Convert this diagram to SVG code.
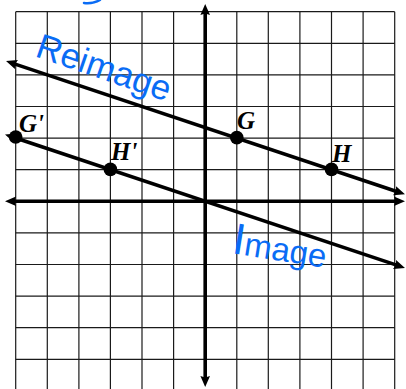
<svg xmlns="http://www.w3.org/2000/svg" width="406" height="389" viewBox="0 0 406 389">
  <style>
    .grid line { stroke: #1a1a1a; stroke-width: 1.2; }
    .ln { stroke: #000; stroke-width: 3.6; fill: none; marker-start: url(#arr); marker-end: url(#arr); }
    .pt { fill: #000; }
    .lbl { font-family: "Liberation Serif", "Times New Roman", serif; font-weight: bold; font-style: italic; font-size: 25px; fill: #000; }
    .hand { font-family: "Liberation Sans", Arial, sans-serif; fill: #0a6cf5; }
  </style>
  <defs>
    <marker id="arr" markerUnits="userSpaceOnUse" markerWidth="14" markerHeight="12" refX="3" refY="0" viewBox="0 -6 14 12" orient="auto-start-reverse">
      <path d="M0,-4.8 L11,0 L0,4.8 L1.5,0 z" fill="#000"/>
    </marker>
  </defs>
  <rect width="406" height="389" fill="#fff"/>
  <g id="grid" class="grid">
    <line x1="15.7" y1="11.7" x2="15.7" y2="389"/>
    <line x1="47.3" y1="11.7" x2="47.3" y2="389"/>
    <line x1="78.9" y1="11.7" x2="78.9" y2="389"/>
    <line x1="110.4" y1="11.7" x2="110.4" y2="389"/>
    <line x1="142" y1="11.7" x2="142" y2="389"/>
    <line x1="173.6" y1="11.7" x2="173.6" y2="389"/>
    <line x1="236.8" y1="11.7" x2="236.8" y2="389"/>
    <line x1="268.3" y1="11.7" x2="268.3" y2="389"/>
    <line x1="299.9" y1="11.7" x2="299.9" y2="389"/>
    <line x1="331.5" y1="11.7" x2="331.5" y2="389"/>
    <line x1="363.1" y1="11.7" x2="363.1" y2="389"/>
    <line x1="394.7" y1="11.7" x2="394.7" y2="389"/>
    <line x1="15.7" y1="11.7" x2="394.7" y2="11.7"/>
    <line x1="15.7" y1="43.3" x2="394.7" y2="43.3"/>
    <line x1="15.7" y1="74.9" x2="394.7" y2="74.9"/>
    <line x1="15.7" y1="106.5" x2="394.7" y2="106.5"/>
    <line x1="15.7" y1="138.1" x2="394.7" y2="138.1"/>
    <line x1="15.7" y1="169.7" x2="394.7" y2="169.7"/>
    <line x1="15.7" y1="232.9" x2="394.7" y2="232.9"/>
    <line x1="15.7" y1="264.5" x2="394.7" y2="264.5"/>
    <line x1="15.7" y1="296.1" x2="394.7" y2="296.1"/>
    <line x1="15.7" y1="327.7" x2="394.7" y2="327.7"/>
    <line x1="15.7" y1="359.3" x2="394.7" y2="359.3"/>
  </g>
  <g id="connectors">
    <line id="x-axis" class="ln" x1="13" y1="201.3" x2="397" y2="201.3"/>
    <line id="y-axis" class="ln" x1="205.2" y1="12" x2="205.2" y2="379"/>
    <line id="line-GH" class="ln" x1="13.6" y1="63.6" x2="397.4" y2="191.7"/>
    <line id="line-GpHp" class="ln" x1="12.6" y1="137.0" x2="397.4" y2="265.4"/>
  </g>
  <g id="G">
    <circle class="pt" cx="236.8" cy="137.6" r="6.8"/>
    <text class="lbl" x="237" y="129">G</text>
  </g>
  <g id="H">
    <circle class="pt" cx="331.5" cy="169.4" r="6.8"/>
    <text class="lbl" x="332" y="162">H</text>
  </g>
  <g id="Gp">
    <circle class="pt" cx="15.7" cy="137" r="6.8"/>
    <text class="lbl" x="19" y="132">G'</text>
  </g>
  <g id="Hp">
    <circle class="pt" cx="110.4" cy="169.4" r="6.8"/>
    <text class="lbl" x="111" y="160">H'</text>
  </g>
  <g id="reimage-label">
    <text class="hand" font-size="35" transform="translate(34,56) rotate(19)">Reimage</text>
  </g>
  <g id="image-label">
    <text class="hand" transform="translate(231,253) rotate(9)"><tspan font-size="44">I</tspan><tspan font-size="33">mage</tspan></text>
  </g>
  <path d="M84,3 Q93,4 100,0" stroke="#0a6cf5" stroke-width="2.5" fill="none" stroke-linecap="round"/>
</svg>
